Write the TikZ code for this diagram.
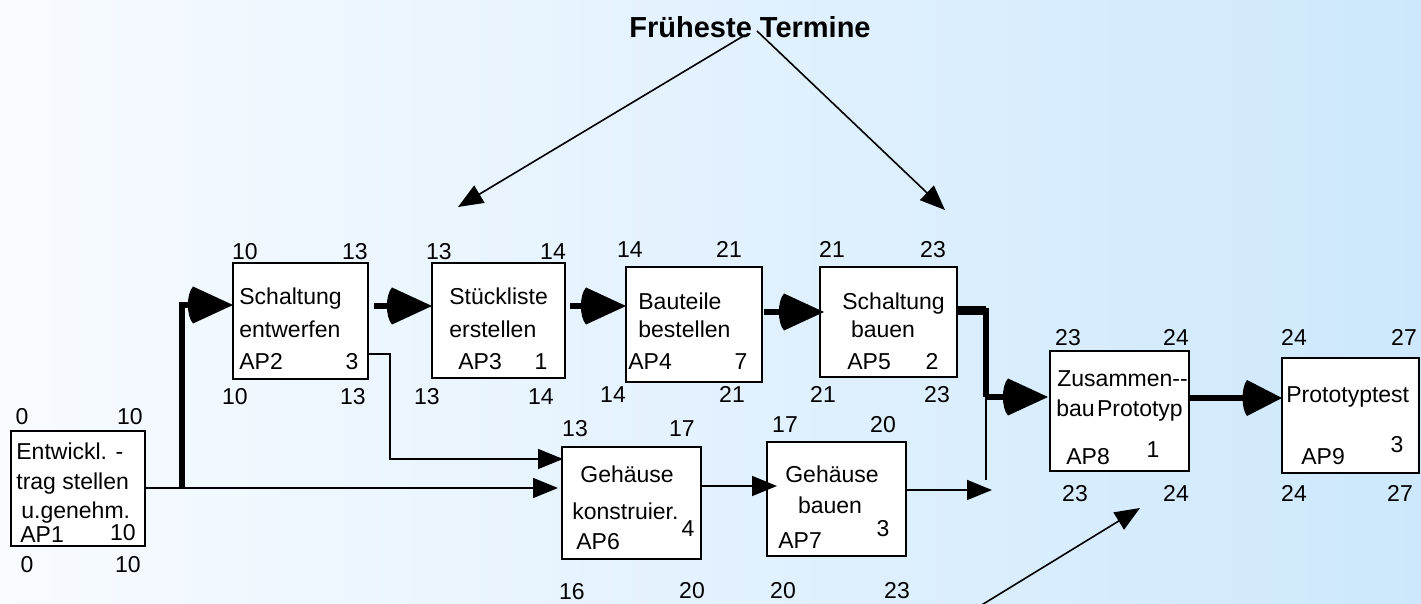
\documentclass[tikz,border=0pt]{standalone}
\usepackage{fontspec}
\setmainfont{Liberation Sans}
\usetikzlibrary{arrows.meta}

% filled triangular head with a slightly bulging back edge
\pgfdeclarearrow{
  name = Fan,
  defaults = {length = 20pt, width = 18.5pt},
  parameters = {\the\pgfarrowlength,\the\pgfarrowwidth},
  setup code = {
    \pgfarrowssettipend{0pt}
    \pgfarrowssetlineend{-\pgfarrowlength}
    \pgfarrowssetvisualbackend{-1.13\pgfarrowlength}
    \pgfarrowssetbackend{-1.13\pgfarrowlength}
    \pgfarrowshullpoint{0pt}{0pt}
    \pgfarrowshullpoint{-\pgfarrowlength}{.5\pgfarrowwidth}
    \pgfarrowshullpoint{-\pgfarrowlength}{-.5\pgfarrowwidth}
    \pgfarrowshullpoint{-1.13\pgfarrowlength}{0pt}
    \pgfarrowssavethe\pgfarrowlength
    \pgfarrowssavethe\pgfarrowwidth
  },
  drawing code = {
    \pgfpathmoveto{\pgfqpoint{0pt}{0pt}}
    \pgfpathlineto{\pgfqpoint{-\pgfarrowlength}{.5\pgfarrowwidth}}
    \pgfpathcurveto{\pgfqpoint{-1.17\pgfarrowlength}{.3\pgfarrowwidth}}{\pgfqpoint{-1.17\pgfarrowlength}{-.3\pgfarrowwidth}}{\pgfqpoint{-\pgfarrowlength}{-.5\pgfarrowwidth}}
    \pgfpathclose
    \pgfusepathqfill
  }
}

\definecolor{bgleft}{RGB}{248,251,255}
\definecolor{bgright}{RGB}{205,232,252}

\begin{document}
\begin{tikzpicture}[x=0.5pt,y=-0.5pt,
  box/.style={draw=black, fill=white, line width=1pt, inner sep=0pt, outer sep=0pt},
  txt/.style={inner sep=0pt, font=\fontsize{11.5}{13}\selectfont},
  thinline/.style={line width=0.8pt},
  fat/.style={line width=2.75pt},
  thinarrow/.style={thinline, -{Triangle[length=12.5pt,width=10pt]}},
  fatarrow/.style={fat, -{Fan[length=20pt,width=18.5pt]}},
]
% background
\shade[left color=bgleft, right color=bgright] (0,0) rectangle (1421,604);
\useasboundingbox (0,0) rectangle (1421,604);

% work packages
\node[box, minimum width=67pt,   minimum height=57.5pt] (AP1) at (78,488.5) {};
\node[box, minimum width=67.5pt, minimum height=58pt]   (AP2) at (300.5,321) {};
\node[box, minimum width=66.5pt, minimum height=57.5pt] (AP3) at (498.5,320.5) {};
\node[box, minimum width=68pt,   minimum height=57.5pt] (AP4) at (694,324.5) {};
\node[box, minimum width=68.5pt, minimum height=55pt]   (AP5) at (888.5,322) {};
\node[box, minimum width=69.5pt, minimum height=56pt]   (AP6) at (631.5,503) {};
\node[box, minimum width=69.5pt, minimum height=57pt]   (AP7) at (836.5,499) {};
\node[box, minimum width=69.5pt, minimum height=60pt]   (AP8) at (1119.5,411) {};
\node[box, minimum width=68.5pt, minimum height=57.5pt] (AP9) at (1350.5,415.5) {};

% junction points
\coordinate (j1) at (182,488);
\coordinate (j2) at (986,311);
\coordinate (j3) at (986,397);
\coordinate (j4) at (986,480);
\coordinate (j5) at (992,490);

% dependencies
\draw[thinarrow, shorten >=2pt] (AP1.east |- 0,488) -- (AP6.west |- 0,488);
\draw[fatarrow] (j1) |- (AP2.west |- 0,305);
\draw[fatarrow, shorten <=3pt] (AP2.east |- 0,306) -- (AP3.west |- 0,306);
\draw[fatarrow, shorten <=2.5pt] (AP3.east |- 0,306) -- (AP4.west |- 0,306);
\draw[fatarrow, shorten <=1pt, shorten >=-2pt] (AP4.east |- 0,312) -- (AP5.west |- 0,312);
\draw[line width=3pt] (AP5.east |- j2) -- (j2) -- (j3);
\draw[line width=4.5pt] (AP5.east |- j2) -- (j2);
\draw[thinline] (j3) -- (j4);
\draw[fatarrow, shorten >=1pt] (j3) -- (AP8.west |- j3);
\draw[thinarrow, shorten >=-0.5pt] (AP2.east |- 0,354) -| (390,459) -- (AP6.west |- 0,459);
\draw[thinarrow, shorten >=-5pt] (AP6.east |- 0,486) -- (AP7.west |- 0,486);
\draw[thinarrow] (AP7.east |- j5) -- (j5);
\draw[line width=3pt, -{Fan[length=17.5pt,width=18pt]}] (AP8.east |- 0,398) -- (AP9.west |- 0,398);

% AP1
\node[txt, anchor=base west] (ap1a) at (16,460) {Entwickl. -};
\node[txt, anchor=base west] (ap1b) at (16,490) {trag stellen};
\node[txt, anchor=base west] (ap1c) at (21,519) {u.genehm.};
\node[txt, anchor=base west] (ap1id) at (20,543) {AP1};
\node[txt, anchor=base] (ap1d) at (123,541) {10};
\node[txt, anchor=base] (ap1n1) at (22,425) {0};
\node[txt, anchor=base] (ap1n2) at (130,425) {10};
\node[txt, anchor=base] (ap1n3) at (27,573) {0};
\node[txt, anchor=base] (ap1n4) at (128,573) {10};

% AP2
\node[txt, anchor=base west] (ap2a) at (239,305) {Schaltung};
\node[txt, anchor=base west] (ap2b) at (239,338) {entwerfen};
\node[txt, anchor=base west] (ap2id) at (239,370) {AP2};
\node[txt, anchor=base] (ap2d) at (352,370) {3};
\node[txt, anchor=base] (ap2n1) at (245,260) {10};
\node[txt, anchor=base] (ap2n2) at (355,260) {13};
\node[txt, anchor=base] (ap2n3) at (235,405) {10};
\node[txt, anchor=base] (ap2n4) at (353,405) {13};

% AP3
\node[txt, anchor=base west] (ap3a) at (449,305) {Stückliste};
\node[txt, anchor=base west] (ap3b) at (449,338) {erstellen};
\node[txt, anchor=base west] (ap3id) at (458,370) {AP3};
\node[txt, anchor=base] (ap3d) at (541,370) {1};
\node[txt, anchor=base] (ap3n1) at (439,260) {13};
\node[txt, anchor=base] (ap3n2) at (553,260) {14};
\node[txt, anchor=base] (ap3n3) at (427,405) {13};
\node[txt, anchor=base] (ap3n4) at (541,405) {14};

% AP4
\node[txt, anchor=base west] (ap4a) at (638,310) {Bauteile};
\node[txt, anchor=base west] (ap4b) at (638,338) {bestellen};
\node[txt, anchor=base west] (ap4id) at (628,370) {AP4};
\node[txt, anchor=base] (ap4d) at (741,370) {7};
\node[txt, anchor=base] (ap4n1) at (630,258) {14};
\node[txt, anchor=base] (ap4n2) at (729,258) {21};
\node[txt, anchor=base] (ap4n3) at (613,403) {14};
\node[txt, anchor=base] (ap4n4) at (732,403) {21};

% AP5
\node[txt, anchor=base west] (ap5a) at (842,310) {Schaltung};
\node[txt, anchor=base] (ap5b) at (883,338) {bauen};
\node[txt, anchor=base west] (ap5id) at (847,370) {AP5};
\node[txt, anchor=base] (ap5d) at (932,370) {2};
\node[txt, anchor=base] (ap5n1) at (832,258) {21};
\node[txt, anchor=base] (ap5n2) at (933,258) {23};
\node[txt, anchor=base] (ap5n3) at (823,403) {21};
\node[txt, anchor=base] (ap5n4) at (937,403) {23};

% AP6
\node[txt, anchor=base west] (ap6a) at (580,483) {Gehäuse};
\node[txt, anchor=base west] (ap6b) at (572,520) {konstruier.};
\node[txt, anchor=base west] (ap6id) at (576,550) {AP6};
\node[txt, anchor=base] (ap6d) at (688,537) {4};
\node[txt, anchor=base] (ap6n1) at (575,437) {13};
\node[txt, anchor=base] (ap6n2) at (682,437) {17};
\node[txt, anchor=base] (ap6n3) at (572,600) {16};
\node[txt, anchor=base] (ap6n4) at (692,598) {20};

% AP7
\node[txt, anchor=base] (ap7a) at (832,483) {Gehäuse};
\node[txt, anchor=base] (ap7b) at (830,514) {bauen};
\node[txt, anchor=base west] (ap7id) at (778,549) {AP7};
\node[txt, anchor=base] (ap7d) at (883,537) {3};
\node[txt, anchor=base] (ap7n1) at (785,433) {17};
\node[txt, anchor=base] (ap7n2) at (883,433) {20};
\node[txt, anchor=base] (ap7n3) at (783,598) {20};
\node[txt, anchor=base] (ap7n4) at (897,598) {23};

% AP8
\node[txt, anchor=base west] (ap8a) at (1057,387) {Zusammen-{}-};
\node[txt, anchor=base west] (ap8b) at (1056,417) {bau\hspace{0.1em}Prototyp};
\node[txt, anchor=base west] (ap8id) at (1066,465) {AP8};
\node[txt, anchor=base] (ap8d) at (1153,458) {1};
\node[txt, anchor=base] (ap8n1) at (1068,346) {23};
\node[txt, anchor=base] (ap8n2) at (1176,346) {24};
\node[txt, anchor=base] (ap8n3) at (1075,502) {23};
\node[txt, anchor=base] (ap8n4) at (1176,502) {24};

% AP9
\node[txt, anchor=base west] (ap9a) at (1286,403) {Prototyptest};
\node[txt, anchor=base west] (ap9id) at (1301,465) {AP9};
\node[txt, anchor=base] (ap9d) at (1397,453) {3};
\node[txt, anchor=base] (ap9n1) at (1294,346) {24};
\node[txt, anchor=base] (ap9n2) at (1404,346) {27};
\node[txt, anchor=base] (ap9n3) at (1294,502) {24};
\node[txt, anchor=base] (ap9n4) at (1400,502) {27};

% annotation
\node[inner sep=0pt, font=\fontsize{14.5}{17}\selectfont\bfseries] (title) at (750,27) {Früheste Termine};
\coordinate (ft1) at (745,35);
\coordinate (ft2) at (757,31);
\coordinate (fe1) at (458,207);
\coordinate (fe2) at (945,210);
\draw[thinarrow] (ft1) -- (fe1);
\draw[thinarrow] (ft2) -- (fe2);
\coordinate (b0) at (980,606);
\coordinate (b1) at (1140,508);
\draw[thinarrow] (b0) -- (b1);
\end{tikzpicture}
\end{document}
